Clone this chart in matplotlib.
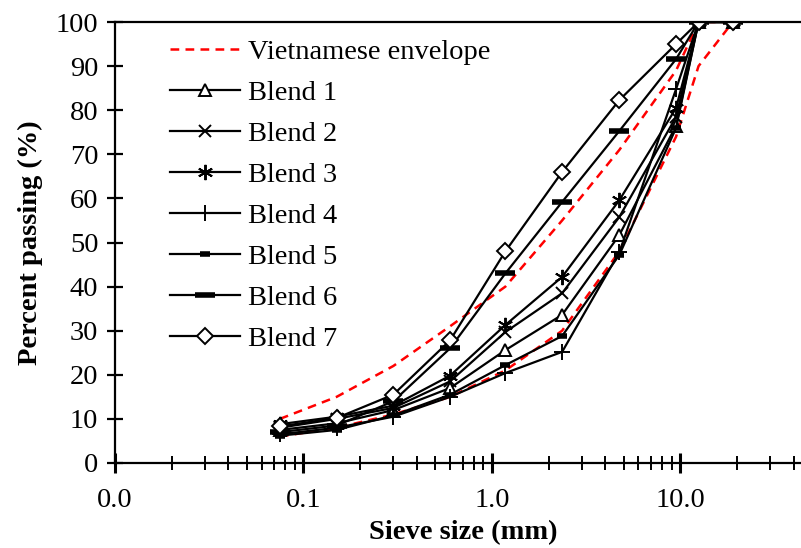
import matplotlib.pyplot as plt
from matplotlib.ticker import FixedLocator, FuncFormatter, LogLocator, NullFormatter

plt.rcParams['font.family'] = ['Liberation Serif', 'DejaVu Serif']

# sieve sizes (mm)
sieves = [0.075, 0.15, 0.3, 0.6, 1.18, 2.36, 4.75, 9.5, 12.5, 19]

# Vietnamese grading envelope
env_lower = [6, 8, 11, 15, 21, 30, 48, 74, 90, 100]
env_upper = [10, 15, 22, 31, 40, 55, 71, 89, 100, 100]

blend1 = [7.5, 9.0, 12.0, 17.0, 25.6, 33.6, 51.7, 76.5, 100, 100]
blend2 = [8.0, 10.0, 12.5, 18.5, 29.7, 38.5, 55.8, 78.5, 100, 100]
blend3 = [8.8, 10.5, 13.0, 19.8, 31.3, 42.2, 59.6, 80.5, 100, 100]
blend4 = [6.5, 8.0, 10.5, 15.0, 20.4, 25.2, 47.8, 84.8, 100, 100]
blend5 = [6.2, 7.5, 10.8, 15.5, 22.2, 28.8, 47.2, 76.0, 100, 100]
blend6 = [7.0, 8.5, 14.0, 26.0, 43.0, 59.2, 75.3, 91.6, 100, 100]
blend7 = [8.3, 10.2, 15.5, 27.8, 48.0, 66.0, 82.3, 95.0, 100, 100]

FS = 20.5

fig = plt.figure(figsize=(8.01, 5.48), dpi=100)
ax = fig.add_axes([115 / 801, 85 / 548, 697 / 801, 441 / 548])

ax.plot(sieves, env_upper, color='red', ls=(0, (3.5, 2.5)), lw=1.8, label='Vietnamese envelope')
ax.plot(sieves, env_lower, color='red', ls=(0, (3.5, 2.5)), lw=1.8)

common = dict(color='black', lw=1.6, mec='black', mew=1.4)
ax.plot(sieves, blend1, marker='^', ms=9, mfc='white', label='Blend 1', **common)
ax.plot(sieves, blend2, marker='x', ms=9, label='Blend 2', **common)
ax.plot(sieves, blend3, marker=(6, 2, 0), ms=11, label='Blend 3', **common)
ax.plot(sieves, blend4, marker='+', ms=11, label='Blend 4', **common)
ax.plot(sieves, blend5, marker='_', ms=7, color='black', lw=1.6, mec='black', mew=4, label='Blend 5')
ax.plot(sieves, blend6, marker='_', ms=15, color='black', lw=1.6, mec='black', mew=4, label='Blend 6')
ax.plot(sieves, blend7, marker='D', ms=8, mfc='white', label='Blend 7', **common)

ax.set_xscale('log')
ax.set_xlim(0.01, 50)
ax.set_ylim(0, 100)
ax.set_yticks(range(0, 101, 10))
ax.xaxis.set_major_locator(FixedLocator([0.01, 0.1, 1, 10]))
ax.xaxis.set_major_formatter(FuncFormatter(lambda v, p: f"{v:.1f}"))
ax.xaxis.set_minor_locator(LogLocator(base=10, subs=range(2, 10)))
ax.xaxis.set_minor_formatter(NullFormatter())

ax.tick_params(axis='both', which='major', direction='inout', length=12, width=1.6,
               labelsize=FS, pad=6)
ax.tick_params(axis='x', which='minor', direction='inout', length=10, width=1.4)
ax.tick_params(axis='x', which='major', length=14, width=2.2, pad=11)
for s in ax.spines.values():
    s.set_linewidth(1.6)

ax.set_xlabel('Sieve size (mm)', fontsize=FS, fontweight='bold', labelpad=5)
ax.set_ylabel('Percent passing (%)', fontsize=FS, fontweight='bold', labelpad=9)

ax.legend(loc='upper left', bbox_to_anchor=(159 / 801, 1 - 28 / 548),
          bbox_transform=fig.transFigure, frameon=False, fontsize=FS,
          handlelength=2.45, handletextpad=0.28, labelspacing=0.53, borderaxespad=0,
          numpoints=1)

fig.savefig('out.png', dpi=100)
